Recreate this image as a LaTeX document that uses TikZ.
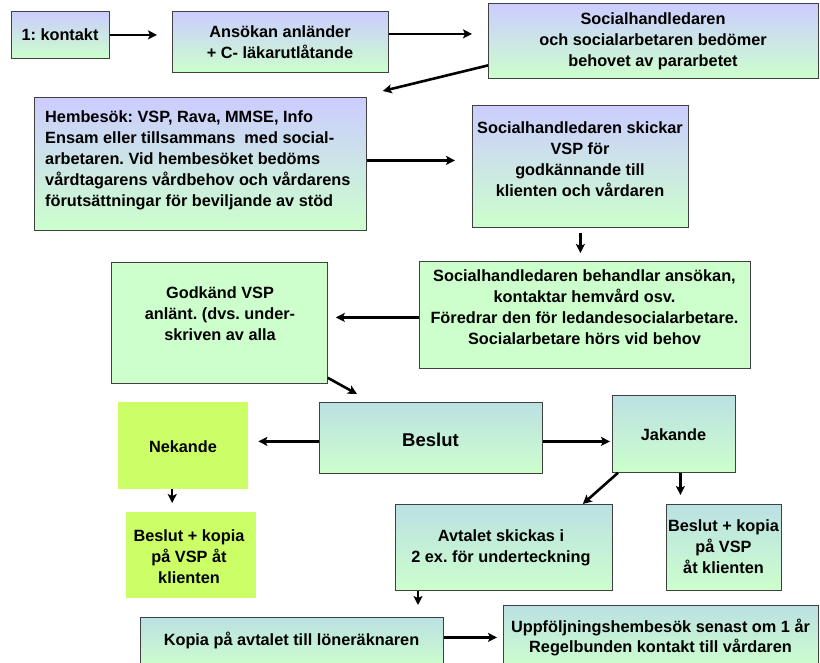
\documentclass[tikz,border=0pt]{standalone}
\usepackage{fontspec}
\setmainfont{Liberation Sans}
\usetikzlibrary{arrows.meta}
\frenchspacing

\definecolor{lav}{HTML}{CCCCFF}
\definecolor{mint}{HTML}{CCFFCC}
\definecolor{tqtop}{HTML}{BBE0E3}
\definecolor{ylw}{HTML}{CCFF66}

\begin{document}
\begin{tikzpicture}[x=1pt, y=-1pt,
    box/.style={draw=black!75, line width=0.8pt, anchor=north west, inner sep=0pt},
    blbox/.style={box, top color=lav, bottom color=mint},
    grbox/.style={box, fill=mint},
    tqbox/.style={box, top color=tqtop, bottom color=mint},
    ylbox/.style={anchor=north west, inner sep=0pt, fill=ylw},
    txt/.style={font=\bfseries\fontsize{16.3}{21}\selectfont, align=center, inner sep=0pt},
    arr/.style={-{Stealth[length=9pt,width=9pt,inset=2pt]}, line width=2.6pt}
  ]
  \useasboundingbox (0,0) rectangle (820,662);

  % upper row
  \node[blbox, minimum width=98pt, minimum height=47pt] (kont) at (11,11) {};
  \node[blbox, minimum width=216pt, minimum height=61pt] (ans) at (172,11) {};
  \node[blbox, minimum width=330pt, minimum height=75pt] (soc) at (488,3) {};
  \node[blbox, minimum width=332pt, minimum height=133pt] (hem) at (34,97) {};
  \node[blbox, minimum width=216pt, minimum height=122pt] (skick) at (472,105) {};
  \node[grbox, minimum width=331pt, minimum height=107pt] (beh) at (419,261) {};
  \node[grbox, minimum width=216pt, minimum height=121pt] (godk) at (111,262) {};

  \node[txt] (kont-t) at (60,35) {1: kontakt};
  \node[txt] (ans-t) at (280,42) {Ansökan anländer\\+ C- läkarutlåtande};
  \node[txt] (soc-t) at (653,41) {Socialhandledaren\\och socialarbetaren bedömer\\behovet av pararbetet};
  \node[txt, align=left, anchor=west] (hem-t) at (45,160) {Hembesök: VSP, Rava, MMSE, Info\\Ensam eller tillsammans\ \ med social-\\arbetaren. Vid hembesöket bedöms\\vårdtagarens vårdbehov och vårdarens\\förutsättningar för beviljande av stöd};
  \node[txt] (skick-t) at (580,159) {Socialhandledaren skickar\\VSP för\\godkännande till\\klienten och vårdaren};
  \node[txt] (beh-t) at (584.5,307) {Socialhandledaren behandlar ansökan,\\kontaktar hemvård osv.\\Föredrar den för ledandesocialarbetare.\\Socialarbetare hörs vid behov};
  \node[txt] (godk-t) at (220,314) {Godkänd VSP\\anlänt. (dvs. under-\\skriven av alla};

  % decision
  \node[tqbox, minimum width=223pt, minimum height=71pt] (beslut) at (319,402) {};
  \node[ylbox, minimum width=130pt, minimum height=87pt] (nek) at (118,402) {};
  \node[tqbox, minimum width=123pt, minimum height=77pt] (jak) at (612,395) {};
  \node[ylbox, minimum width=130pt, minimum height=86pt] (nekres) at (126,512) {};
  \node[tqbox, minimum width=217pt, minimum height=86pt] (avt) at (395,504) {};
  \node[tqbox, minimum width=115pt, minimum height=86pt] (jakres) at (666,504) {};
  \node[tqbox, minimum width=303pt, minimum height=50pt] (kopia) at (140,617) {};
  \node[tqbox, minimum width=315pt, minimum height=62pt] (uppf) at (503,605) {};

  \node[txt, font=\bfseries\fontsize{18.5}{22}\selectfont] (beslut-t) at (430.5,440) {Beslut};
  \node[txt] (nek-t) at (183,447) {Nekande};
  \node[txt] (jak-t) at (673.5,435) {Jakande};
  \node[txt] (nekres-t) at (189,557) {Beslut + kopia\\på VSP åt\\klienten};
  \node[txt] (avt-t) at (501,548) {Avtalet skickas i\\2 ex. för underteckning};
  \node[txt] (jakres-t) at (723.5,547) {Beslut + kopia\\på VSP\\åt klienten};
  \node[txt] (kopia-t) at (291.5,640) {Kopia på avtalet till löneräknaren};
  \node[txt, font=\bfseries\fontsize{16.3}{20}\selectfont] (uppf-t) at (660.5,638) {Uppföljningshembesök senast om 1 år\\Regelbunden kontakt till vårdaren};

  % arrows
  \draw[arr, shorten >=15pt] (kont.east) -- (kont.east -| ans.west);
  \draw[arr, shorten >=16pt] ([yshift=8pt]ans.east) -- ([yshift=8pt]ans.east -| soc.west);
  \draw[arr] ([yshift=-24.5pt]soc.west) -- ([xshift=16pt,yshift=6pt]hem.north east);
  \draw[arr, shorten >=17pt] ([yshift=3.5pt]hem.east) -- ([yshift=3.5pt]hem.east -| skick.west);
  \draw[arr, line width=2.2pt, shorten <=5pt, shorten >=8pt] (skick.south) -- (skick.south |- beh.north);
  \draw[arr, shorten >=8pt] ([yshift=-2.5pt]beh.west) -- ([yshift=-2.5pt]beh.west -| godk.east);
  \draw[arr] ([yshift=6pt]godk.south east) -- ([xshift=38pt,yshift=8pt]beslut.north west);
  \draw[arr, shorten >=10pt] ([yshift=-3.5pt]beslut.west) -- ([yshift=-3.5pt]beslut.west -| nek.east);
  \draw[arr, shorten >=2pt] ([yshift=-3.5pt]beslut.east) -- ([yshift=-3.5pt]beslut.east -| jak.west);
  \draw[arr] ([xshift=6pt]jak.south west) -- ([xshift=-30pt]avt.north east);
  \draw[arr, line width=2.2pt, shorten >=9pt] ([xshift=6.5pt]jak.south) -- ([xshift=6.5pt]jak.south |- jakres.north);
  \draw[arr, line width=2.2pt, shorten >=9pt] ([xshift=-11pt]nek.south) -- ([xshift=-11pt]nek.south |- nekres.north);
  \draw[arr, line width=2.2pt, shorten >=12pt] ([xshift=23pt]avt.south west) -- ([xshift=23pt]avt.south west |- kopia.north);
  \draw[arr, shorten >=6pt] ([yshift=5pt]kopia.east) -- ([yshift=5pt]kopia.east -| uppf.west);
\end{tikzpicture}
\end{document}
